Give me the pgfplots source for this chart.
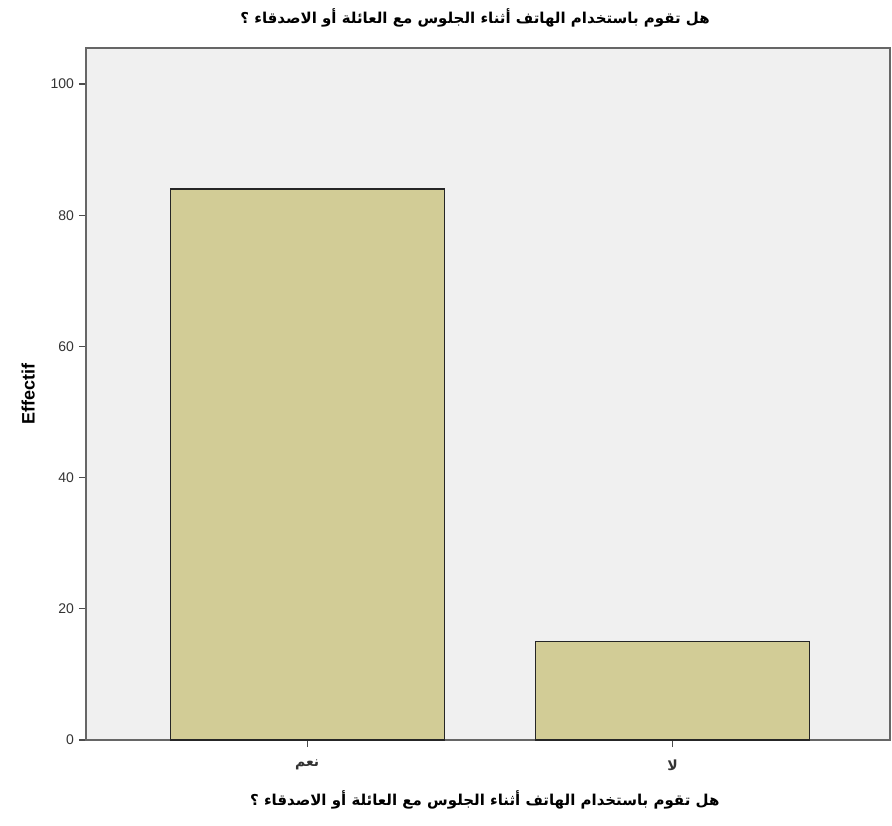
\documentclass[border=0pt]{standalone}
\usepackage{pgfplots}
\pgfplotsset{compat=1.18}
\usepackage{fontspec}
\setmainfont{Liberation Sans}
\TeXXeTstate=1
\newfontfamily\arabicfont[Script=Arabic]{DejaVu Sans}
\definecolor{barfill}{HTML}{D2CC96}
\definecolor{bgfill}{HTML}{F0F0F0}
\begin{document}
\begin{tikzpicture}
\path[use as bounding box] (0,0) rectangle (446pt,412.5pt);
\begin{axis}[
  at={(43pt,42.5pt)}, anchor=south west,
  scale only axis, width=402pt, height=346pt,
  xmin=-0.605, xmax=1.595, ymin=0, ymax=105.5,
  axis background/.style={fill=bgfill},
  axis line style={draw=black!60, line width=0.8pt},
  ytick={0,20,40,60,80,100},
  xtick={0,1},
  xticklabels={{\arabicfont\bfseries\beginR نعم\endR},{\arabicfont\bfseries\beginR لا\endR}},
  tick align=outside, tick pos=left,
  major tick length=3.5pt,
  tick style={black!70, line width=0.6pt},
  /pgf/number format/assume math mode=true,
  tick label style={font=\fontsize{7}{8}\selectfont, text=black!80},
  yticklabel style={xshift=1pt},
  ylabel={\bfseries Effectif},
  ylabel style={at={(axis description cs:-0.072,0.5)}, anchor=center, font=\fontsize{9}{10}\selectfont},
  xlabel={\arabicfont\bfseries\beginR هل تقوم باستخدام الهاتف أثناء الجلوس مع العائلة أو الاصدقاء ؟\endR},
  xlabel style={at={(axis description cs:0.496,0)}, yshift=-30pt, anchor=center, font=\fontsize{7.5}{8}\selectfont},
  title={\arabicfont\bfseries\beginR هل تقوم باستخدام الهاتف أثناء الجلوس مع العائلة أو الاصدقاء ؟\endR},
  title style={at={(axis description cs:0.484,1)}, yshift=9pt, anchor=center, font=\fontsize{7.5}{8}\selectfont},
  xticklabel style={yshift=-3pt},
]
\addplot[ybar, bar width=137pt, fill=barfill, draw=black!85, line width=0.6pt] coordinates {(0,84) (1,15)};
\end{axis}
\end{tikzpicture}
\end{document}
